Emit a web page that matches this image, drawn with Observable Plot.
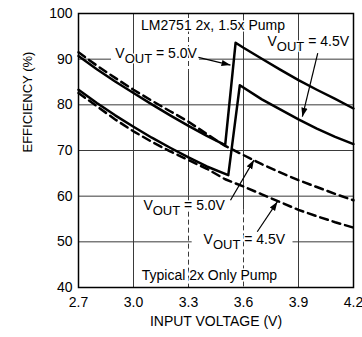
<!DOCTYPE html>
<html><head><meta charset="utf-8">
<script src="https://cdn.jsdelivr.net/npm/d3@7"></script>
<script src="https://cdn.jsdelivr.net/npm/@observablehq/plot@0.6"></script>
<style>body{margin:0;background:#fff}</style>
</head><body><div id="chart"></div>
<script>
// ---- data ----
const xTicks = [2.7, 3.0, 3.3, 3.6, 3.9, 4.2];
const yTicks = [40, 50, 60, 70, 80, 90, 100];

// LM2751 2x, 1.5x pump (solid)
const vinPump5 = [2.7, 2.8, 2.9, 3.0, 3.1, 3.2, 3.3, 3.4, 3.5, 3.557, 3.6, 3.7, 3.8, 3.9, 4.0, 4.1, 4.2];
const effPump5 = [90.7, 87.8, 85.1, 82.6, 80.1, 77.7, 75.4, 73.2, 71.2, 93.6, 92.5, 90.1, 87.7, 85.4, 83.3, 81.3, 79.2];
const vinPump45 = [2.7, 2.8, 2.9, 3.0, 3.1, 3.2, 3.3, 3.4, 3.517, 3.58, 3.7, 3.8, 3.9, 4.0, 4.1, 4.2];
const effPump45 = [83.3, 80.4, 77.7, 75.2, 72.8, 70.6, 68.5, 66.5, 64.6, 84.3, 81.2, 79.0, 76.8, 74.8, 73.0, 71.4];

// Typical 2x only pump (dashed)
const vin2x = [2.7, 2.8, 2.9, 3.0, 3.1, 3.2, 3.3, 3.4, 3.5, 3.6, 3.7, 3.8, 3.9, 4.0, 4.1, 4.2];
const eff2x5 = [91.5, 88.6, 85.9, 83.3, 80.9, 78.6, 76.3, 73.6, 71.0, 69.0, 67.0, 65.2, 63.5, 62.0, 60.5, 59.1];
const eff2x45 = [82.6, 79.7, 76.8, 74.2, 71.9, 69.8, 67.9, 66.0, 63.7, 62.1, 60.4, 58.7, 57.0, 55.6, 54.3, 53.1];

const titleLabels = ["LM2751 2x, 1.5x Pump", "Typical 2x Only Pump"];
const voutLabels = ["VOUT = 5.0V", "VOUT = 4.5V", "VOUT = 5.0V", "VOUT = 4.5V"];

// ---- build tables ----
const solid = [
  ...vinPump5.map((v, i) => ({v, e: effPump5[i], s: "5.0"})),
  ...vinPump45.map((v, i) => ({v, e: effPump45[i], s: "4.5"}))
];
const dashed = [
  ...vin2x.map((v, i) => ({v, e: eff2x5[i], s: "5.0"})),
  ...vin2x.map((v, i) => ({v, e: eff2x45[i], s: "4.5"}))
];
const vLabels = [
  {t: voutLabels[0], x: 2.901, y: 91.2},
  {t: voutLabels[1], x: 3.731, y: 93.9},
  {t: voutLabels[2], x: 3.054, y: 57.9},
  {t: voutLabels[3], x: 3.382, y: 50.6}
];
const tLabels = [
  {t: titleLabels[0], x: 3.434, y: 97.3},
  {t: titleLabels[1], x: 3.414, y: 42.6}
];
const arrows = [
  {x1: 3.354, y1: 90.4, x2: 3.529, y2: 88.7},
  {x1: 4.005, y1: 91.3, x2: 3.921, y2: 77.4},
  {x1: 3.529, y1: 59.1, x2: 3.657, y2: 67.9},
  {x1: 3.675, y1: 52.2, x2: 3.785, y2: 58.8}
];

const gridColor = "#3a3a3a";
const svg = Plot.plot({
  width: 362, height: 337,
  marginLeft: 78, marginRight: 9, marginTop: 13, marginBottom: 50,
  style: {fontFamily: "'Liberation Sans', Arial, sans-serif", fontSize: "14px", color: "black", background: "white"},
  x: {domain: [2.7, 4.2]},
  y: {domain: [40, 100]},
  marks: [
    // grid
    Plot.ruleY([50, 60, 70, 80, 90], {stroke: gridColor, strokeWidth: 1}),
    Plot.ruleX([3.0, 3.9], {stroke: gridColor, strokeWidth: 1}),
    Plot.ruleX([{x: 3.3, a: 87.5, b: 60}, {x: 3.6, a: 100, b: 57}], {x: "x", y1: "a", y2: "b", stroke: gridColor, strokeWidth: 1}),
    // gaps in grid behind labels
    Plot.rect([{a: 2.88, b: 3.36, c: 89.2, d: 90.9}, {a: 3.32, b: 3.87, c: 49.2, d: 50.8}], {x1: "a", x2: "b", y1: "c", y2: "d", fill: "white"}),
    Plot.ruleX([{x: 3.3, a: 100, b: 87.5}, {x: 3.3, a: 60, b: 40}, {x: 3.6, a: 57, b: 40}], {x: "x", y1: "a", y2: "b", stroke: gridColor, strokeWidth: 1, strokeDasharray: "5,3"}),
    // curves
    Plot.line(dashed, {x: "v", y: "e", z: "s", stroke: "black", strokeWidth: 2.5, strokeDasharray: "8,5"}),
    Plot.line(solid, {x: "v", y: "e", z: "s", stroke: "black", strokeWidth: 2.5}),
    // arrows
    Plot.link(arrows, {x1: "x1", y1: "y1", x2: "x2", y2: "y2", stroke: "black", strokeWidth: 1.2}),
    // labels
    Plot.text(tLabels, {x: "x", y: "y", text: "t", fill: "black", stroke: "white", strokeWidth: 3, paintOrder: "stroke", fontSize: 14}),
    Plot.text(vLabels, {x: "x", y: "y", text: "t", textAnchor: "start", fill: "black", stroke: "white", strokeWidth: 3, paintOrder: "stroke", fontSize: 14}),
    // axes
    Plot.axisX({ticks: xTicks, tickSize: 0, tickPadding: 10, tickFormat: d3.format(".1f"), label: null, fontSize: 14}),
    Plot.axisY({ticks: yTicks, tickSize: 0, tickPadding: 6, label: null, fontSize: 14}),
    Plot.text(["INPUT VOLTAGE (V)"], {frameAnchor: "bottom", dy: 38, fontSize: 14}),
    Plot.text(["EFFICIENCY (%)"], {frameAnchor: "left", rotate: -90, dx: -51, dy: 2, fontSize: 13}),
    Plot.frame({stroke: "black", strokeWidth: 1.5})
  ]
});

// subscripts for V_OUT
d3.select(svg).selectAll("text").each(function() {
  const t = this.textContent;
  if (t.startsWith("VOUT")) {
    const rest = t.slice(4);
    const s = d3.select(this);
    s.text(null);
    s.append("tspan").text("V");
    s.append("tspan").attr("dy", 5).attr("font-size", 13).text("OUT");
    s.append("tspan").attr("dy", -5).text(" " + rest.trim());
  }
});
// filled arrowheads
const defs = d3.select(svg).append("defs");
defs.append("marker").attr("id", "ah").attr("viewBox", "0 0 10 10")
  .attr("refX", 10).attr("refY", 5).attr("markerWidth", 9).attr("markerHeight", 9)
  .attr("markerUnits", "userSpaceOnUse").attr("orient", "auto")
  .append("path").attr("d", "M0,1.5L10,5L0,8.5Z").attr("fill", "black");
d3.select(svg).selectAll('g[aria-label="link"] path').attr("marker-end", "url(#ah)");

document.getElementById("chart").appendChild(svg);
</script>
</body></html>
